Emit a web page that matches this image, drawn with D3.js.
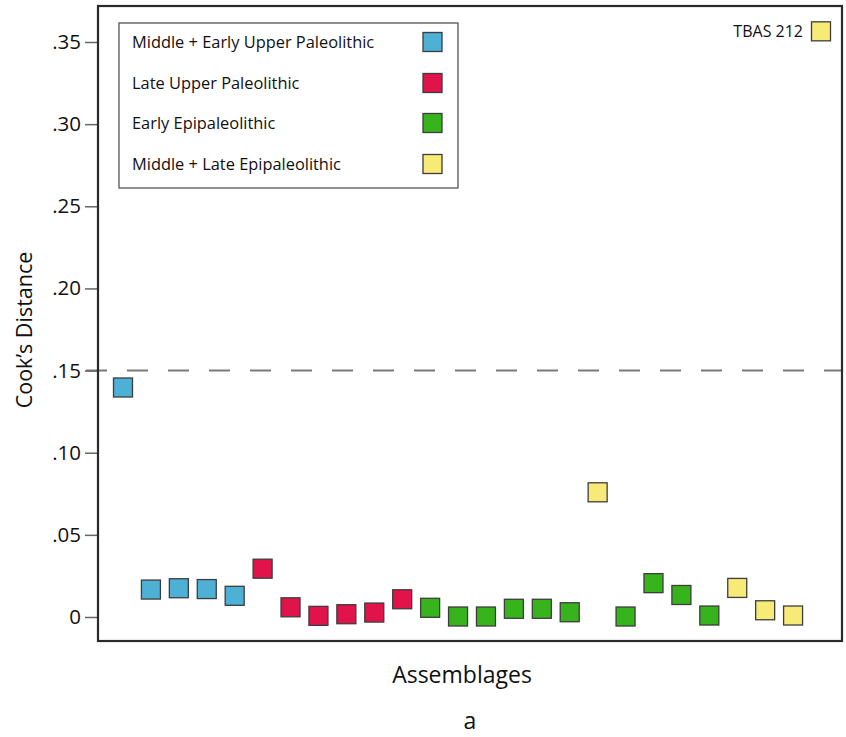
<!DOCTYPE html>
<html>
<head>
<meta charset="utf-8">
<script src="https://cdn.jsdelivr.net/npm/d3@7/dist/d3.min.js"></script>
<style>
  html, body { margin: 0; padding: 0; background: #fff; }
  svg { display: block; font-family: "Open Sans", Lato, sans-serif; }
</style>
</head>
<body>
<svg id="chart" width="846" height="737"></svg>
<script>
// ---- data ----
const groups = ["Middle + Early Upper Paleolithic", "Late Upper Paleolithic", "Early Epipaleolithic", "Middle + Late Epipaleolithic"];
const groupColors = ["#4DB0D4", "#E0144A", "#37B41C", "#F8EA77"];
const assemblageGroup = [0,0,0,0,0, 1,1,1,1,1,1, 2,2,2,2,2,2, 3, 2,2,2,2, 3,3,3,3];
const cooksD = [0.1397, 0.0167, 0.0175, 0.0170, 0.0129,
                0.0294, 0.0059, 0.0007, 0.0017, 0.0027, 0.0108,
                0.0056, 0.0003, 0.0003, 0.0050, 0.0050, 0.0029,
                0.0759,
                0.0003, 0.0206, 0.0134, 0.0009,
                0.0177, 0.0041, 0.0009, 0.3565];
const yTicks = [0, 0.05, 0.10, 0.15, 0.20, 0.25, 0.30, 0.35];
const yTickLabels = ["0", ".05", ".10", ".15", ".20", ".25", ".30", ".35"];
const threshold = 0.15;
const outlierLabel = "TBAS 212";
const outlierIndex = 25;

// ---- layout ----
const svg = d3.select("#chart");
const plot = { left: 98, top: 6, right: 842, bottom: 641 };

const x = d3.scalePoint()
  .domain(d3.range(cooksD.length))
  .range([123, 821]);
const y = d3.scaleLinear()
  .domain([0, 0.35])
  .range([617, 42]);

// threshold dashed line
svg.append("line")
  .attr("x1", 86).attr("x2", plot.right)
  .attr("y1", y(threshold)).attr("y2", y(threshold))
  .attr("stroke", "#7a7a7a").attr("stroke-width", 2)
  .attr("stroke-dasharray", "21 20");

// y axis
const yAxis = d3.axisLeft(y)
  .tickValues(yTicks)
  .tickFormat((d, i) => yTickLabels[i])
  .tickSize(13)
  .tickPadding(4);
const gy = svg.append("g")
  .attr("transform", `translate(${plot.left},0)`)
  .call(yAxis);
gy.select(".domain").remove();
gy.selectAll(".tick line").attr("stroke", "#666").attr("stroke-width", 1.5);
gy.selectAll(".tick text")
  .attr("font-size", 20.5)
  .attr("font-family", "'Open Sans', Lato, sans-serif")
  .attr("fill", "#111");

// frame
svg.append("rect")
  .attr("x", plot.left).attr("y", plot.top)
  .attr("width", plot.right - plot.left).attr("height", plot.bottom - plot.top)
  .attr("fill", "none").attr("stroke", "#2a2a2a").attr("stroke-width", 2.2);

// points
const s = 19;
svg.append("g").selectAll("rect")
  .data(cooksD)
  .join("rect")
  .attr("x", (d, i) => x(i) - s / 2)
  .attr("y", d => y(d) - s / 2)
  .attr("width", s).attr("height", s)
  .attr("fill", (d, i) => groupColors[assemblageGroup[i]])
  .attr("stroke", "#3d3d3d").attr("stroke-width", 1.3);

// outlier label
svg.append("text")
  .attr("x", x(outlierIndex) - 18)
  .attr("y", y(cooksD[outlierIndex]))
  .attr("dy", "0.35em")
  .attr("text-anchor", "end")
  .attr("font-size", 16)
  .attr("fill", "#111")
  .text(outlierLabel);

// legend
const lg = svg.append("g");
lg.append("rect")
  .attr("x", 119).attr("y", 23)
  .attr("width", 339).attr("height", 165)
  .attr("fill", "#fff").attr("stroke", "#555").attr("stroke-width", 1.3);
const rowY = [42, 83, 123, 164];
groups.forEach((g, i) => {
  lg.append("text")
    .attr("x", 132).attr("y", rowY[i]).attr("dy", "0.35em")
    .attr("font-size", 16.4).attr("fill", "#111")
    .text(g);
  lg.append("rect")
    .attr("x", 423).attr("y", rowY[i] - 9.5)
    .attr("width", 19).attr("height", 19)
    .attr("fill", groupColors[i])
    .attr("stroke", "#3d3d3d").attr("stroke-width", 1.3);
});

// axis titles
svg.append("text")
  .attr("x", 462).attr("y", 683)
  .attr("text-anchor", "middle")
  .attr("font-size", 23).attr("fill", "#111")
  .text("Assemblages");
svg.append("text")
  .attr("transform", "translate(32,330) rotate(-90)")
  .attr("text-anchor", "middle")
  .attr("font-size", 21.5).attr("fill", "#111")
  .text("Cook\u2019s Distance");
svg.append("text")
  .attr("x", 470).attr("y", 729)
  .attr("text-anchor", "middle")
  .attr("font-size", 23).attr("fill", "#111")
  .text("a");
</script>
</body>
</html>
